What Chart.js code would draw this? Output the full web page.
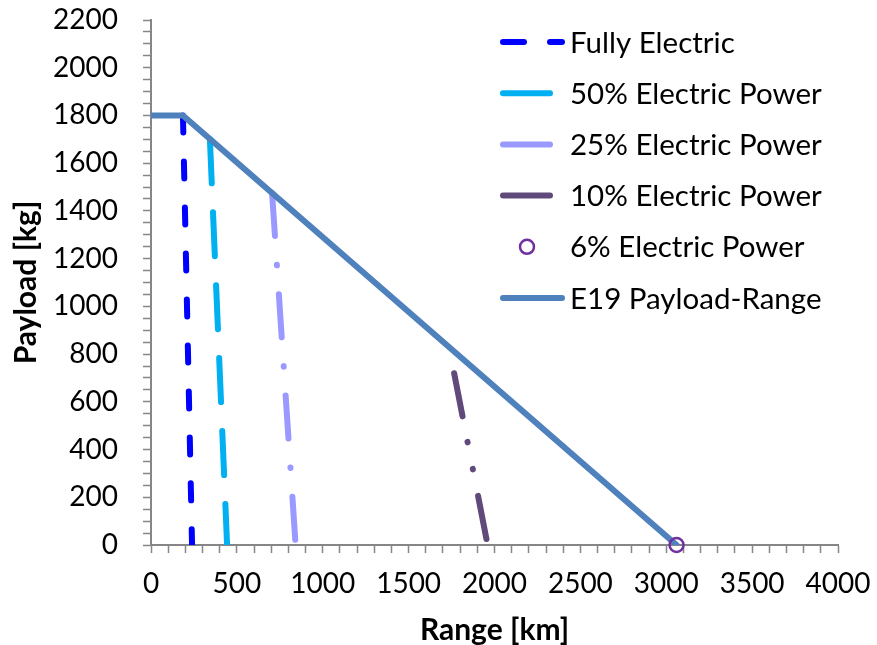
<!DOCTYPE html>
<html>
<head>
<meta charset="utf-8">
<script src="https://cdn.jsdelivr.net/npm/chart.js@4.4.0/dist/chart.umd.min.js"></script>
<style>
  html, body { margin: 0; padding: 0; background: #fff; }
  #wrap { width: 877px; height: 645px; }
</style>
</head>
<body>
<div id="wrap"><canvas id="chart"></canvas></div>
<script>
// series names, in legend order
var seriesNames = ['Fully Electric', '50% Electric Power', '25% Electric Power',
  '10% Electric Power', '6% Electric Power', 'E19 Payload-Range'];

// range [km] / payload [kg]
var fullyRange = [186, 239];
var fullyPayload = [1800, 0];
var e50Range = [343, 443];
var e50Payload = [1700, 0];
var e25Range = [705, 842];
var e25Payload = [1475, 0];
var e10Range = [1765, 1960];
var e10Payload = [720, 0];
var e6Range = [3060];
var e6Payload = [0];
var e19Range = [0, 186, 3060];
var e19Payload = [1800, 1800, 0];

var xTicks = [0, 500, 1000, 1500, 2000, 2500, 3000, 3500, 4000];
var yTicks = [0, 200, 400, 600, 800, 1000, 1200, 1400, 1600, 1800, 2000, 2200];

var FONT = 'Lato';
var AXIS = '#868686';

function pts(xs, ys) {
  return xs.map(function(x, i) { return { x: x, y: ys[i] }; });
}

var styles = [
  { color: '#0000ff', dash: [17, 29], legendDash: [21, 26], legendEnd: 562 },
  { color: '#00b0f0', dash: [44, 29], legendEnd: 550 },
  { color: '#9999ff', dash: [43, 29, 0.5, 29], legendEnd: 550 },
  { color: '#604a7b', dash: [44, 26, 0.5, 27, 0.5, 27], legendEnd: 550 },
  { color: '#7030a0', marker: true },
  { color: '#4f81bd', dash: [], legendEnd: 562 }
];

var series = [
  pts(fullyRange, fullyPayload),
  pts(e50Range, e50Payload),
  pts(e25Range, e25Payload),
  pts(e10Range, e10Payload),
  pts(e6Range, e6Payload),
  pts(e19Range, e19Payload)
];

var datasets = series.map(function(d, i) {
  var s = styles[i];
  if (s.marker) {
    return {
      label: seriesNames[i], data: d, showLine: false, order: -1, clip: false,
      pointStyle: 'circle', pointRadius: 7, pointBorderWidth: 2.5,
      pointBorderColor: s.color, pointBackgroundColor: 'rgba(0,0,0,0)'
    };
  }
  return {
    label: seriesNames[i], data: d, showLine: true,
    order: i === 5 ? 0 : 1 + i,
    borderColor: s.color, borderWidth: 6, borderDash: s.dash,
    borderCapStyle: 'round', borderJoinStyle: 'round',
    pointRadius: 0, pointHoverRadius: 0, tension: 0
  };
});

var sideLegend = {
  id: 'sideLegend',
  afterDraw: function(chart) {
    var ctx = chart.ctx;
    ctx.save();
    seriesNames.forEach(function(name, i) {
      var s = styles[i];
      var y = 42 + i * 51.2;
      if (s.marker) {
        ctx.beginPath();
        ctx.arc(527, y, 7, 0, Math.PI * 2);
        ctx.lineWidth = 2.5;
        ctx.strokeStyle = s.color;
        ctx.stroke();
      } else {
        ctx.beginPath();
        ctx.setLineDash(s.legendDash || []);
        ctx.lineCap = 'round';
        ctx.lineWidth = 6;
        ctx.strokeStyle = s.color;
        ctx.moveTo(503, y);
        ctx.lineTo(s.legendEnd, y);
        ctx.stroke();
        ctx.setLineDash([]);
      }
      ctx.fillStyle = '#000';
      ctx.font = '29.5px ' + FONT;
      ctx.textAlign = 'left';
      ctx.textBaseline = 'middle';
      ctx.fillText(name, 570, y + 1);
    });
    ctx.restore();
  }
};

new Chart(document.getElementById('chart'), {
  type: 'scatter',
  data: { datasets: datasets },
  options: {
    responsive: true,
    maintainAspectRatio: false,
    animation: false,
    events: [],
    layout: { padding: { top: 20, right: 39, left: 0, bottom: 0 } },
    plugins: { legend: { display: false }, tooltip: { enabled: false } },
    scales: {
      x: {
        type: 'linear', min: 0, max: 4000,
        afterFit: function(scale) {
          scale.height = 100;
          scale.paddingLeft = 0;
          scale.paddingRight = 0;
        },
        border: { color: AXIS, width: 2 },
        grid: { drawOnChartArea: false, color: AXIS, tickLength: 8, tickWidth: 1.5 },
        ticks: {
          stepSize: 100, autoSkip: false, maxRotation: 0, padding: 14,
          color: '#000', font: { family: FONT, size: 28 },
          callback: function(v) { return xTicks.indexOf(v) >= 0 ? String(v) : ''; }
        },
        title: {
          display: true, text: 'Range [km]', color: '#000',
          font: { family: FONT, size: 30, weight: 'bold', lineHeight: 1 },
          padding: { top: 0, bottom: 0 }
        }
      },
      y: {
        type: 'linear', min: 0, max: 2200,
        afterFit: function(scale) {
          scale.width = 151;
          scale.paddingTop = 0;
          scale.paddingBottom = 0;
        },
        border: { color: AXIS, width: 2 },
        grid: { drawOnChartArea: false, color: AXIS, tickLength: 8, tickWidth: 1.5 },
        ticks: {
          stepSize: 50, autoSkip: false, padding: 25,
          color: '#000', font: { family: FONT, size: 28 },
          callback: function(v) { return yTicks.indexOf(v) >= 0 ? String(v) : ''; }
        },
        title: {
          display: true, text: 'Payload [kg]', color: '#000',
          font: { family: FONT, size: 30, weight: 'bold' },
          padding: { top: 8, bottom: 0 }
        }
      }
    }
  },
  plugins: [sideLegend]
});
</script>
</body>
</html>
